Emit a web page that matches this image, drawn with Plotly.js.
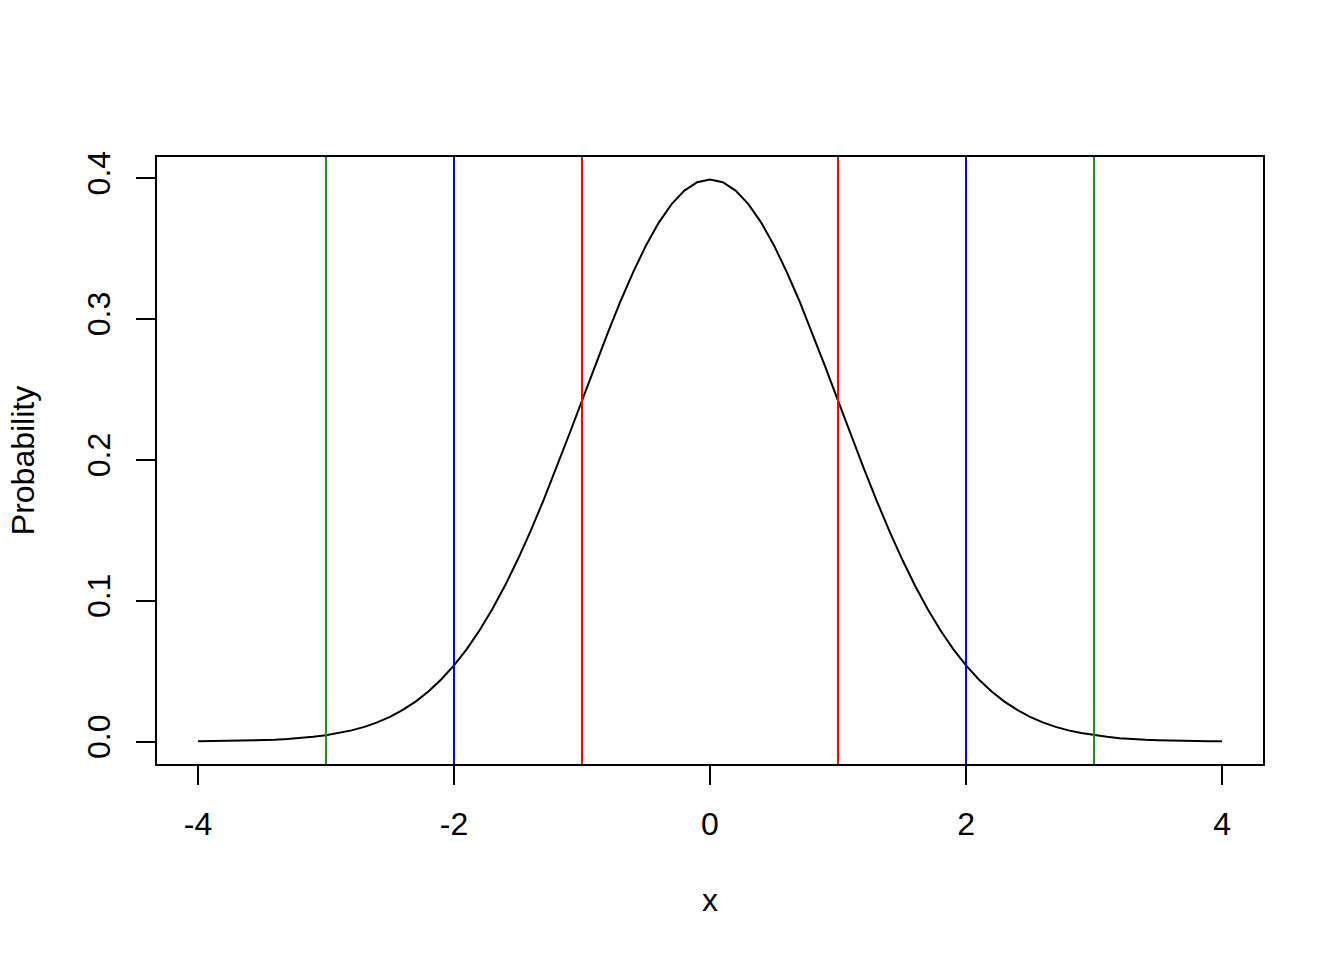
<!DOCTYPE html>
<html>
<head>
<meta charset="utf-8">
<script src="https://cdn.plot.ly/plotly-3.0.1.min.js"></script>
<style>html,body{margin:0;padding:0;background:#fff;}#chart{width:1344px;height:960px;}</style>
</head>
<body>
<div id="chart"></div>
<script>
// Sample points of the plotted density curve
var xVals = [-4.0,-3.9,-3.8,-3.7,-3.6,-3.5,-3.4,-3.3,-3.2,-3.1,-3.0,-2.9,-2.8,-2.7,-2.6,-2.5,-2.4,-2.3,-2.2,-2.1,-2.0,
  -1.9,-1.8,-1.7,-1.6,-1.5,-1.4,-1.3,-1.2,-1.1,-1.0,-0.9,-0.8,-0.7,-0.6,-0.5,-0.4,-0.3,-0.2,-0.1,0.0,
  0.1,0.2,0.3,0.4,0.5,0.6,0.7,0.8,0.9,1.0,1.1,1.2,1.3,1.4,1.5,1.6,1.7,1.8,1.9,2.0,
  2.1,2.2,2.3,2.4,2.5,2.6,2.7,2.8,2.9,3.0,3.1,3.2,3.3,3.4,3.5,3.6,3.7,3.8,3.9,4.0];
var probVals = [0.0001,0.0002,0.0003,0.0004,0.0006,0.0009,0.0012,0.0017,0.0024,0.0033,0.0044,0.0060,0.0079,0.0104,0.0136,0.0175,0.0224,0.0283,0.0355,0.0440,0.0540,
  0.0656,0.0790,0.0940,0.1109,0.1295,0.1497,0.1714,0.1942,0.2179,0.2420,0.2661,0.2897,0.3123,0.3332,0.3521,0.3683,0.3814,0.3910,0.3970,0.3989,
  0.3970,0.3910,0.3814,0.3683,0.3521,0.3332,0.3123,0.2897,0.2661,0.2420,0.2179,0.1942,0.1714,0.1497,0.1295,0.1109,0.0940,0.0790,0.0656,0.0540,
  0.0440,0.0355,0.0283,0.0224,0.0175,0.0136,0.0104,0.0079,0.0060,0.0044,0.0033,0.0024,0.0017,0.0012,0.0009,0.0006,0.0004,0.0003,0.0002,0.0001];

// Vertical reference lines
var vlinePositions = [-1, 1, -2, 2, -3, 3];
var vlineColors = ["#FF0000", "#FF0000", "#0000FF", "#0000FF", "#228B22", "#228B22"];

// Tick labels
var xTickVals = [-4, -2, 0, 2, 4];
var xTickText = ["-4", "-2", "0", "2", "4"];
var yTickVals = [0, 0.1, 0.2, 0.3, 0.4];
var yTickText = ["0.0", "0.1", "0.2", "0.3", "0.4"];

var fontFam = "Liberation Sans, Arial, sans-serif";

var trace = {
  x: xVals, y: probVals, type: "scatter", mode: "lines",
  line: {color: "#000000", width: 2}, hoverinfo: "skip"
};

var shapes = vlinePositions.map(function(v, i) {
  return {type: "line", xref: "x", yref: "paper", x0: v, x1: v, y0: 0, y1: 1,
          line: {color: vlineColors[i], width: 2}, layer: "above"};
});

var layout = {
  width: 1344, height: 960,
  margin: {l: 157, r: 81, t: 157, b: 196, pad: 0},
  paper_bgcolor: "#ffffff", plot_bgcolor: "#ffffff",
  showlegend: false,
  font: {family: fontFam, size: 32, color: "#000000"},
  xaxis: {
    range: [-4.32, 4.32], tickmode: "array", tickvals: xTickVals, ticktext: xTickText,
    ticks: "outside", ticklen: 19, tickwidth: 2, tickcolor: "#000",
    showline: true, mirror: true, linecolor: "#000", linewidth: 2,
    showgrid: false, zeroline: false, automargin: false, ticklabelstandoff: 12,
    tickfont: {family: fontFam, size: 32, color: "#000"},
    title: {text: "x", font: {family: fontFam, size: 32, color: "#000"}, standoff: 47}
  },
  yaxis: {
    range: [-0.01596, 0.41486], tickmode: "array", tickvals: yTickVals, ticktext: yTickText,
    ticks: "outside", ticklen: 19, tickwidth: 2, tickcolor: "#000", tickangle: -90,
    showline: true, mirror: true, linecolor: "#000", linewidth: 2,
    showgrid: false, zeroline: false, automargin: false, ticklabelstandoff: 13,
    tickfont: {family: fontFam, size: 32, color: "#000"},
    title: {text: "Probability", font: {family: fontFam, size: 32, color: "#000"}, standoff: 37}
  },
  shapes: shapes
};

Plotly.newPlot("chart", [trace], layout, {staticPlot: true, displayModeBar: false});
</script>
</body>
</html>
